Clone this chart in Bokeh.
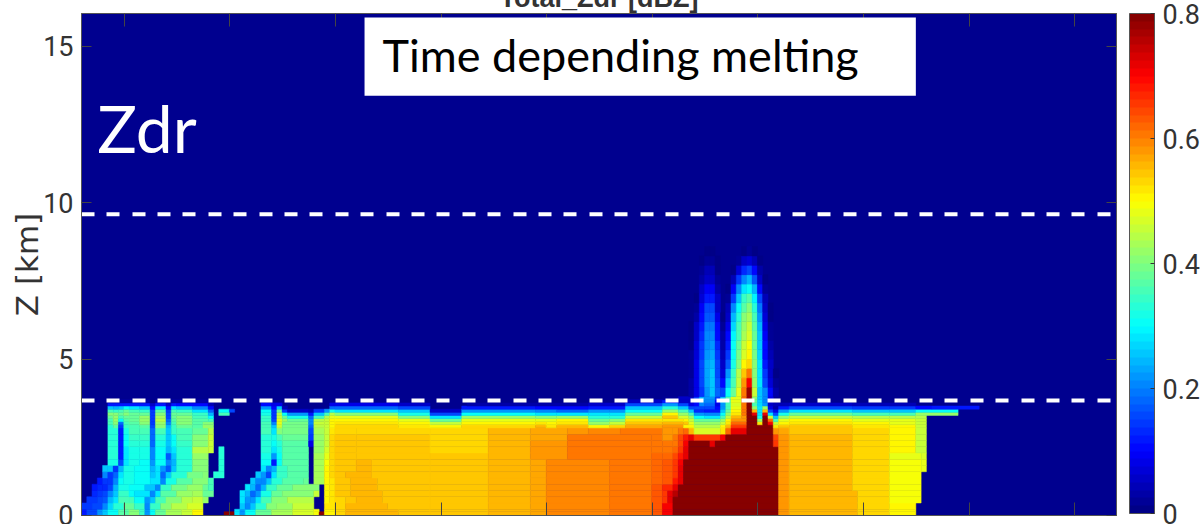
from bokeh.plotting import figure
from bokeh.models import (ColumnDataSource, LinearColorMapper, ColorBar, FixedTicker, LinearAxis,
                          Label, BoxAnnotation, Title)
from bokeh.transform import linear_cmap
from bokeh.embed import file_html
from bokeh.resources import INLINE


def jet(n=64):
    out = []
    for i in range(n):
        t = (i + 0.5) / n
        r = min(4 * t - 1.5, -4 * t + 4.5)
        g = min(4 * t - 0.5, -4 * t + 3.5)
        b = min(4 * t + 0.5, -4 * t + 2.5)
        c = [int(255 * max(0, min(1, v))) for v in (r, g, b)]
        out.append("#%02x%02x%02x" % tuple(c))
    return out


N_COLS = 196
TITLE = "Total_Zdr [dBZ]"
Y_TICKS = [0, 5, 10, 15]
X_TICKS = [8.1, 28.1, 48.1, 68.1, 88.1, 108.1, 128.1, 148.1, 168.1, 188.1]
CB_TICKS = [0, 0.2, 0.4, 0.6, 0.8]
DASH_LEVELS = [9.63, 3.68]

# height edges of the rows below and within the melting layer (km)
z_edges = [0, .12, .2, .4, .6, .8, 1.0, 1.2, 1.4, 1.6, 1.8, 2.0, 2.2, 2.4, 2.6, 2.8,
           2.9, 3.0, 3.1, 3.2, 3.3, 3.4, 3.5, 3.6, 3.7, 3.8]

# each row: runs of (end column, Zdr in hundredths of dB)
r00 = [(1,12),(3,16),(4,22),(5,26),(7,31),(9,37),(11,40),(12,34),(13,22),(14,30),(16,38),(19,43),(21,46),(23,50),(27,0),(29,80),(30,28),(31,22),(33,30),(36,38),(40,43),(44,47),(45,49),(46,80),(48,51),
       (50,53),(60,55),(66,54),(77,54),(85,56),(88,57),(100,59),(108,60),(110,63),(112,70),(132,80),(134,58),(147,56),(153,53),(158,50)]
r01 = [(1,12),(3,16),(4,22),(5,26),(7,31),(9,37),(11,40),(12,34),(13,22),(14,30),(16,38),(19,43),(21,46),(23,50),(29,0),(30,28),(31,22),(33,30),(36,38),(40,43),(44,47),(45,49),(46,0),(48,51),
       (50,53),(60,55),(66,54),(77,54),(85,56),(88,57),(100,59),(108,60),(110,63),(112,70),(132,80),(134,58),(147,56),(153,53),(158,50)]
r02 = [(2,14),(4,16),(5,20),(6,27),(8,33),(10,38),(12,34),(13,21),(15,34),(17,40),(20,44),(23,47),(30,0),(31,26),(32,20),(33,26),(35,33),(37,40),(40,42),(44,46),(45,0),(46,0),(48,52),
       (50,53),(58,56),(66,54),(77,54),(85,56),(88,57),(100,59),(108,60),(110,63),(112,70),(132,80),(134,58),(147,56),(153,53),(158,50)]
r03 = [(1,0),(3,14),(4,15),(5,17),(6,24),(7,28),(9,36),(10,35),(12,30),(13,22),(14,26),(16,36),(19,41),(21,44),(23,46),(24,42),(30,0),(31,28),(32,22),(33,22),(34,28),(36,36),(39,41),(44,44),(46,0),(47,51),(48,52),
       (50,53),(52,54),(57,56),(66,54),(77,54),(85,56),(88,57),(100,59),(108,60),(110,63),(111,66),(112,72),(132,80),(134,58),(147,56),(153,53),(159,49)]
r04 = [(2,0),(3,13),(4,14),(5,15),(6,20),(7,26),(9,34),(10,30),(13,28),(14,20),(15,28),(18,37),(21,42),(23,43),(25,38),(30,0),(31,28),(32,24),(33,18),(34,22),(36,32),(38,38),(44,41),(45,46),(46,0),(47,51),(48,52),
       (51,54),(57,56),(66,54),(77,54),(85,56),(88,57),(100,59),(108,60),(110,63),(111,66),(112,72),(113,75),(132,80),(134,58),(147,55),(153,53),(159,49)]
r05 = [(2,0),(3,12),(4,13),(5,13),(6,16),(7,24),(9,32),(12,31),(14,26),(15,20),(17,34),(20,39),(23,42),(24,38),(25,36),(31,0),(32,28),(33,24),(34,18),(35,24),(37,34),(40,38),(45,41),(46,0),(47,50),(48,52),
       (51,54),(56,56),(66,54),(77,54),(85,56),(88,57),(100,59),(108,60),(110,63),(112,67),(113,72),(132,80),(134,58),(146,55),(153,53),(159,49)]
r06 = [(3,0),(4,12),(5,14),(6,14),(7,20),(8,30),(10,32),(13,30),(15,28),(16,20),(18,32),(21,37),(24,40),(25,36),(32,0),(33,26),(34,20),(35,20),(36,26),(38,33),(42,37),(43,38),(44,0),(46,43),(47,50),(48,52),
       (51,54),(56,56),(66,54),(77,54),(85,56),(88,57),(100,59),(108,60),(110,62),(112,63),(113,68),(114,72),(132,80),(134,58),(146,55),(153,53),(159,49)]
r07 = [(4,0),(5,20),(6,14),(7,18),(8,28),(10,32),(13,31),(14,26),(15,28),(16,18),(17,26),(20,33),(23,39),(24,40),(25,0),(27,33),(33,0),(34,26),(35,22),(36,16),(37,28),(39,34),(43,37),(44,0),(46,43),(47,50),(48,53),
       (50,54),(55,56),(66,54),(77,54),(85,56),(88,57),(100,59),(108,60),(110,62),(112,63),(113,66),(114,72),(132,80),(134,58),(146,55),(153,53),(159,49)]
r08 = [(4,0),(5,26),(6,26),(7,14),(8,24),(10,32),(13,31),(14,24),(15,28),(16,22),(17,17),(18,26),(21,33),(24,40),(26,0),(27,33),(34,0),(35,28),(36,20),(37,24),(39,34),(43,37),(44,0),(46,43),(47,50),(48,53),
       (52,54),(55,56),(66,54),(77,54),(85,56),(88,57),(100,59),(108,60),(110,62),(112,63),(113,65),(114,72),(132,80),(134,58),(146,55),(153,53),(159,49),(160,48)]
r09 = [(5,0),(7,32),(8,15),(9,28),(11,32),(13,31),(14,22),(16,30),(17,20),(18,24),(21,33),(24,40),(26,0),(27,33),(34,0),(36,30),(37,12),(38,30),(43,37),(44,0),(46,43),(47,49),(48,53),
       (52,54),(55,55),(66,54),(77,54),(85,56),(88,57),(100,59),(108,60),(110,62),(112,63),(113,65),(114,70),(132,80),(134,58),(146,55),(153,53),(159,49),(160,48)]
r10 = [(5,0),(7,33),(8,12),(9,28),(11,32),(13,32),(14,20),(16,31),(17,17),(18,26),(21,33),(24,42),(26,0),(27,33),(34,0),(36,32),(37,22),(38,30),(43,37),(44,0),(46,43),(47,48),(48,53),
       (52,54),(66,54),(77,54),(85,56),(92,58),(108,60),(110,62),(112,62),(113,64),(114,68),(115,72),(132,80),(134,58),(146,55),(153,53),(159,48),(160,47)]
r11 = [(5,0),(7,33),(8,12),(9,28),(11,32),(13,32),(14,20),(16,31),(17,24),(18,28),(21,33),(24,44),(25,46),(26,0),(27,33),(34,0),(36,33),(37,28),(38,32),(43,37),(44,0),(46,42),(47,47),(48,53),
       (52,54),(66,54),(77,53),(85,56),(92,58),(108,60),(110,61),(112,60),(113,62),(114,66),(115,72),(132,80),(134,58),(146,55),(153,53),(158,50),(160,46)]
r12 = [(5,0),(7,33),(8,12),(9,30),(11,33),(13,33),(14,18),(16,32),(17,26),(18,30),(21,34),(24,40),(25,46),(34,0),(36,33),(37,30),(38,33),(43,37),(44,8),(46,42),(47,46),(48,53),
       (52,54),(66,54),(77,53),(85,56),(92,58),(108,60),(110,60),(112,60),(113,60),(114,64),(115,70),(119,80),(120,72),(131,80),(132,66),(134,58),(146,55),(153,53),(158,50),(160,46)]
r13 = [(5,0),(7,33),(8,12),(9,30),(11,34),(13,34),(14,18),(16,33),(17,26),(18,30),(21,35),(24,40),(25,45),(34,0),(36,33),(37,32),(38,36),(43,38),(44,14),(46,42),(47,46),(48,53),
       (52,54),(66,54),(77,53),(85,55),(92,57),(108,60),(110,60),(112,58),(113,60),(114,64),(115,68),(116,72),(121,66),(122,70),(123,80),(131,80),(132,64),(134,58),(146,55),(153,53),(158,50),(160,46)]
r14 = [(5,0),(7,33),(8,12),(9,32),(11,35),(13,35),(14,18),(16,36),(17,26),(18,34),(21,36),(24,38),(25,44),(34,0),(36,35),(37,28),(38,40),(43,39),(44,16),(46,43),(47,46),(48,52),
       (52,53),(66,53),(77,53),(85,55),(92,57),(96,58),(102,59),(110,60),(112,58),(113,58),(114,60),(115,62),(116,56),(121,47),(122,52),(123,62),(126,72),(131,80),(132,58),(134,57),(146,54),(153,53),(158,50),(160,46)]
r15 = [(5,0),(6,33),(7,37),(8,14),(9,34),(11,36),(13,37),(14,16),(16,40),(17,24),(18,34),(21,38),(23,37),(25,42),(34,0),(36,36),(37,26),(38,46),(43,39),(44,18),(46,44),(47,46),(48,50),
       (60,53),(66,52),(72,50),(86,53),(88,55),(90,52),(96,55),(100,50),(103,53),(110,57),(114,58),(116,50),(121,44),(122,50),(123,56),(126,66),(131,80),(132,52),(134,54),(146,54),(153,52),(158,50),(160,46)]
r16 = [(5,0),(6,35),(7,40),(8,18),(9,36),(11,37),(13,40),(14,14),(16,42),(17,20),(18,36),(21,40),(23,37),(25,40),(34,0),(36,36),(37,20),(38,48),(43,39),(44,20),(46,45),(47,46),(48,50),
       (60,52),(66,50),(72,46),(86,50),(88,52),(90,50),(96,52),(100,42),(103,46),(110,54),(114,56),(115,54),(116,48),(121,42),(122,46),(123,52),(126,62),(128,80),(129,52),(130,80),(131,70),(132,46),(134,50),(146,52),(153,50),(158,48),(160,46)]
r17 = [(5,0),(6,36),(7,42),(8,30),(9,37),(11,38),(13,42),(14,14),(16,44),(17,18),(18,37),(21,40),(24,37),(25,36),(34,0),(36,34),(37,16),(38,48),(39,42),(43,38),(44,20),(46,44),(47,46),(48,50),
       (60,50),(66,48),(72,38),(86,48),(90,48),(96,50),(100,38),(103,40),(110,52),(114,52),(115,50),(116,46),(121,38),(122,42),(123,50),(126,58),(128,80),(129,42),(130,80),(131,62),(132,36),(134,48),(146,50),(153,48),(158,48),(160,46)]
r18 = [(5,0),(6,38),(7,42),(8,36),(9,38),(11,38),(13,42),(14,14),(16,43),(17,16),(18,38),(21,40),(24,36),(25,30),(34,0),(36,34),(37,14),(38,46),(39,38),(43,32),(44,18),(46,36),(47,44),(48,48),
       (60,48),(66,40),(72,28),(86,42),(90,40),(96,42),(100,33),(103,33),(110,45),(113,54),(115,47),(116,42),(118,30),(121,28),(122,36),(123,46),(125,55),(126,58),(128,80),(129,32),(130,80),(131,45),(132,25),(134,42),(146,46),(153,44),(158,44),(160,44)]
r19 = [(5,0),(6,40),(7,40),(8,38),(9,40),(11,38),(13,38),(14,14),(16,41),(17,16),(18,38),(21,38),(24,34),(25,24),(26,0),(28,35),(34,0),(36,32),(37,14),(38,44),(39,30),(43,22),(44,12),(46,26),(47,36),(48,44),
       (60,40),(66,32),(72,15),(86,30),(90,28),(96,28),(100,28),(103,28),(110,38),(113,50),(115,42),(116,35),(118,22),(121,20),(122,30),(123,42),(125,52),(126,60),(127,80),(128,72),(129,28),(130,72),(131,28),(132,15),(134,32),(146,38),(153,36),(158,36),(166,42)]
r20 = [(5,0),(6,36),(7,34),(8,36),(9,38),(11,36),(13,34),(14,14),(16,37),(17,14),(18,35),(21,34),(24,28),(25,18),(26,0),(28,30),(29,15),(34,0),(36,30),(37,14),(38,38),(39,14),(43,6),(44,4),(46,14),(47,22),(48,32),
       (60,28),(66,25),(72,5),(86,22),(90,20),(96,18),(100,22),(103,22),(110,30),(113,42),(115,35),(116,25),(118,13),(121,12),(122,25),(123,38),(125,50),(126,60),(127,80),(128,55),(129,28),(130,55),(131,15),(132,8),(134,22),(146,28),(153,26),(158,26),(166,30)]
r21 = [(5,0),(6,26),(7,24),(8,26),(9,30),(11,28),(13,26),(14,10),(16,28),(17,10),(18,28),(21,26),(24,20),(25,10),(34,0),(36,22),(37,10),(38,26),(39,4),(47,0),(48,18),
       (60,18),(66,15),(72,0),(86,12),(96,10),(103,12),(110,25),(113,33),(115,25),(116,15),(118,15),(120,15),(121,10),(122,22),(123,35),(125,48),(126,60),(127,80),(128,42),(129,28),(130,42),(131,8),(132,3),(134,12),(146,16),(153,14),(158,14),(161,10),(170,12)]
r22 = [(5,0),(13,12),(14,6),(16,12),(17,6),(18,12),(24,10),(25,4),(34,0),(36,10),(38,8),(47,0),(48,8),
       (60,8),(66,5),(73,0),(86,3),(96,3),(103,5),(110,15),(113,22),(115,15),(116,8),(117,10),(118,20),(120,18),(121,8),(122,22),(123,35),(125,47),(126,60),(127,80),(128,35),(129,27),(130,22),(131,5),(134,4),(146,5),(158,4)]
r23 = [(5,0),(13,3),(14,1),(16,3),(17,1),(18,3),(24,3),(103,0),(110,5),(113,12),(115,6),(116,6),(117,12),(118,22),(120,20),(121,10),(122,24),(123,36),(125,48),(126,62),(127,80),(128,38),(129,27),(130,20),(131,6)]
r24 = [(110,0),(113,2),(116,5),(117,14),(118,24),(120,22),(121,14),(122,26),(123,37),(125,48),(126,62),(127,78),(128,40),(129,26),(130,20),(131,8)]
low_rows = [r00, r01, r02, r03, r04, r05, r06, r07, r08, r09, r10, r11, r12, r13, r14, r15, r16, r17, r18, r19, r20, r21, r22, r23, r24]

# plumes above the melting layer: columns 115..131, one list per 0.3 km level starting at 3.8 km
plume_first_col = 115
plume_z = [3.8, 4.1, 4.4, 4.7, 5.0, 5.3, 5.6, 5.9, 6.2, 6.5, 6.8, 7.1, 7.4, 7.7, 8.0, 8.3]
plume_step = 0.3
p38 = [3, 8, 14, 22, 25, 18, 16, 30, 38, 48, 60, 78, 45, 26, 20, 10, 3]
p41 = [3, 8, 15, 23, 25, 17, 10, 26, 36, 46, 58, 70, 42, 28, 16, 7, 2]
p44 = [2, 8, 15, 23, 25, 16, 7, 22, 34, 44, 54, 60, 41, 28, 14, 6, 1]
p47 = [2, 8, 15, 23, 24, 15, 5, 17, 32, 40, 50, 53, 40, 28, 12, 5, 0]
p50 = [2, 7, 14, 22, 23, 14, 4, 14, 31, 39, 47, 51, 39, 27, 11, 4, 0]
p53 = [1, 7, 14, 21, 22, 13, 3, 12, 30, 38, 45, 49, 38, 26, 10, 3, 0]
p56 = [1, 6, 13, 20, 21, 11, 3, 10, 29, 36, 43, 47, 38, 25, 9, 2, 0]
p59 = [1, 5, 12, 19, 19, 10, 2, 8, 27, 35, 42, 45, 37, 24, 8, 2, 0]
p62 = [0, 3, 10, 17, 17, 8, 1, 6, 24, 33, 40, 43, 35, 22, 7, 1, 0]
p65 = [0, 2, 9, 15, 15, 6, 0, 4, 20, 30, 37, 40, 33, 19, 6, 1, 0]
p68 = [0, 1, 7, 12, 12, 5, 0, 2, 14, 26, 34, 37, 29, 15, 4, 0, 0]
p71 = [0, 0, 5, 9, 9, 3, 0, 1, 9, 20, 28, 31, 24, 11, 2, 0, 0]
p74 = [0, 0, 3, 6, 6, 2, 0, 0, 4, 14, 21, 24, 17, 6, 1, 0, 0]
p77 = [0, 0, 2, 4, 4, 1, 0, 0, 1, 7, 13, 15, 10, 3, 0, 0, 0]
p80 = [0, 0, 1, 2, 2, 1, 0, 0, 0, 2, 5, 7, 4, 1, 0, 0, 0]
p83 = [0, 0, 0, 1, 1, 0, 0, 0, 0, 0, 1, 2, 1, 0, 0, 0, 0]
plume_rows = [p38, p41, p44, p47, p50, p53, p56, p59, p62, p65, p68, p71, p74, p77, p80, p83]

left, right, bottom, top, val = [], [], [], [], []
for k, row in enumerate(low_rows):
    start = 0
    for end, v in row:
        if v > 0 and end > start:
            left.append(start); right.append(end)
            bottom.append(z_edges[k]); top.append(z_edges[k + 1]); val.append(v / 100)
        start = max(start, end)
for z, row in zip(plume_z, plume_rows):
    for i, v in enumerate(row):
        if v > 0:
            left.append(plume_first_col + i); right.append(plume_first_col + i + 1)
            bottom.append(z); top.append(z + plume_step); val.append(v / 100)
src = ColumnDataSource(dict(left=left, right=right, bottom=bottom, top=top, val=val))

TICK_FONT = "Roboto"
INK = "#333333"
TITLE_ROOM = 30
palette = jet(64)
p = figure(width=1201, height=524 + TITLE_ROOM, x_range=(0, N_COLS), y_range=(0, 16.05),
           output_backend="svg", toolbar_location=None, x_axis_location=None, y_axis_location=None,
           min_border_left=81, min_border_right=85, min_border_top=13 + TITLE_ROOM, min_border_bottom=9,
           background_fill_color="#00008f", border_fill_color="white", outline_line_color="#555555",
           styles={"margin-top": f"-{TITLE_ROOM}px"})
p.xgrid.visible = False
p.ygrid.visible = False
p.title = Title(text=TITLE, align="center", text_font="Liberation Sans", text_font_style="bold",
                text_font_size="27px", text_color=INK, standoff=2)

p.quad(left="left", right="right", bottom="bottom", top="top", source=src,
       fill_color=linear_cmap("val", palette, 0, 0.8), line_color=linear_cmap("val", palette, 0, 0.8), line_width=0.5)

for place, ticks in (("left", Y_TICKS), ("right", Y_TICKS), ("below", X_TICKS), ("above", X_TICKS)):
    ax = LinearAxis(ticker=FixedTicker(ticks=ticks))
    ax.major_tick_in = 10 if place in ("left", "right") else 13
    ax.major_tick_out = 0
    ax.minor_tick_in = 0
    ax.minor_tick_out = 0
    ax.major_tick_line_color = "#444444"
    ax.axis_line_color = "#555555"
    if place == "left":
        ax.major_label_text_font = TICK_FONT
        ax.major_label_text_font_size = "27px"
        ax.major_label_text_color = INK
        ax.major_label_standoff = 8
        ax.axis_label = "Z [km]"
        ax.axis_label_text_font = "DejaVu Sans"
        ax.axis_label_text_font_style = "normal"
        ax.axis_label_text_font_size = "31px"
        ax.axis_label_text_color = INK
        ax.axis_label_standoff = -5
    else:
        ax.major_label_overrides = {t: "" for t in ticks}
        ax.major_label_standoff = 0
    p.add_layout(ax, place)

for lvl in DASH_LEVELS:
    p.line([0, N_COLS], [lvl, lvl], line_color="white", line_width=4, line_dash="13 12 13 13 13 12 13 12 13 13")

p.add_layout(BoxAnnotation(left=53.6, right=158, bottom=13.42, top=15.92, fill_color="white", fill_alpha=1,
                           line_color=None, level="overlay"))
p.add_layout(Label(x=57.0, y=14.73, text="Time depending melting", text_font="Lato", text_font_size="45px",
                   text_baseline="alphabetic", text_color="black", level="overlay"))
p.add_layout(Label(x=3.0, y=12.42, text="Zdr", text_font="Lato", text_font_size="66px",
                   text_baseline="alphabetic", text_color="white"))

cb = ColorBar(color_mapper=LinearColorMapper(palette=palette, low=0, high=0.8),
              ticker=FixedTicker(ticks=CB_TICKS), major_label_overrides={0: "0", 0.2: "0.2", 0.4: "0.4", 0.6: "0.6", 0.8: "0.8"},
              location=(1048, 2), width=25, height=500, padding=0, margin=0,
              background_fill_alpha=0, border_line_color=None, bar_line_color="#555555",
              major_tick_in=4, major_tick_out=0, major_tick_line_color="#333333", minor_tick_line_color=None,
              label_standoff=8, major_label_text_font=TICK_FONT, major_label_text_font_size="27px",
              major_label_text_color=INK)
p.add_layout(cb, "center")

open("out.html", "w").write(file_html(p, INLINE))
